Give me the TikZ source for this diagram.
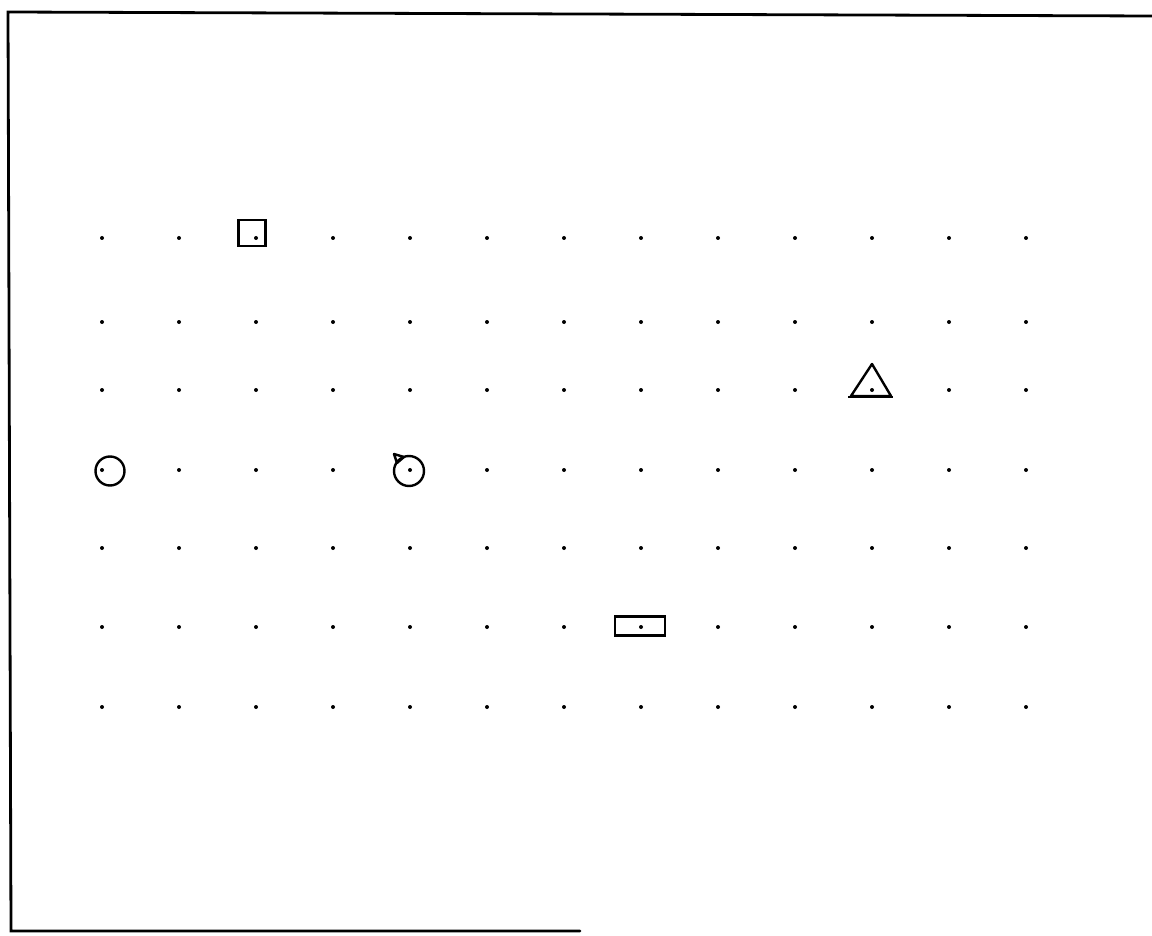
\documentclass[tikz,border=0pt]{standalone}
\begin{document}
\begin{tikzpicture}[x=1pt,y=-1pt,
  gdot/.style={circle,fill=black,inner sep=0pt,minimum size=4pt},
  shp/.style={draw=black,line width=2.4pt,inner sep=0pt},
  frame/.style={line width=2.8pt,line cap=round}]
\useasboundingbox (0,0) rectangle (1152,936);
% frame
\coordinate (tl) at (8,12);
\coordinate (tr) at (1152,16);
\coordinate (bl) at (11,931);
\coordinate (br) at (580,931);
\draw[frame] (tr) -- (tl) -- (bl) -- (br);
% grid of dots
\foreach \y [count=\j] in {238,322,390,470,548,627,707}{
  \foreach \i in {0,...,12}{
    \node[gdot] (d-\i-\j) at ({102+77*\i},\y) {};
  }
}
% shapes
\node[shp,rectangle,minimum width=27pt,minimum height=26pt] (sq) at (252,233) {};
\node[shp,circle,minimum size=29pt] (c1) at (110,471) {};
\node[shp,circle,minimum size=30pt] (c2) at (409,471) {};
\coordinate (f1) at (394,454);
\coordinate (f2) at (404,457);
\coordinate (f3) at (397,463);
\draw[line width=2.4pt,line join=round] (f1) -- (f2) -- (f3) -- cycle;
\node[shp,rectangle,minimum width=50pt,minimum height=19pt] (rc) at (640,626) {};
\coordinate (t1) at (872,364);
\coordinate (t2) at (851,396);
\coordinate (t3) at (891,396);
\draw[line width=2.4pt,line join=round] (t1) -- (t2) -- (t3) -- cycle;
\coordinate (b1) at (848,397);
\coordinate (b2) at (893,397);
\draw[line width=2.4pt] (b1) -- (b2);
\end{tikzpicture}
\end{document}
